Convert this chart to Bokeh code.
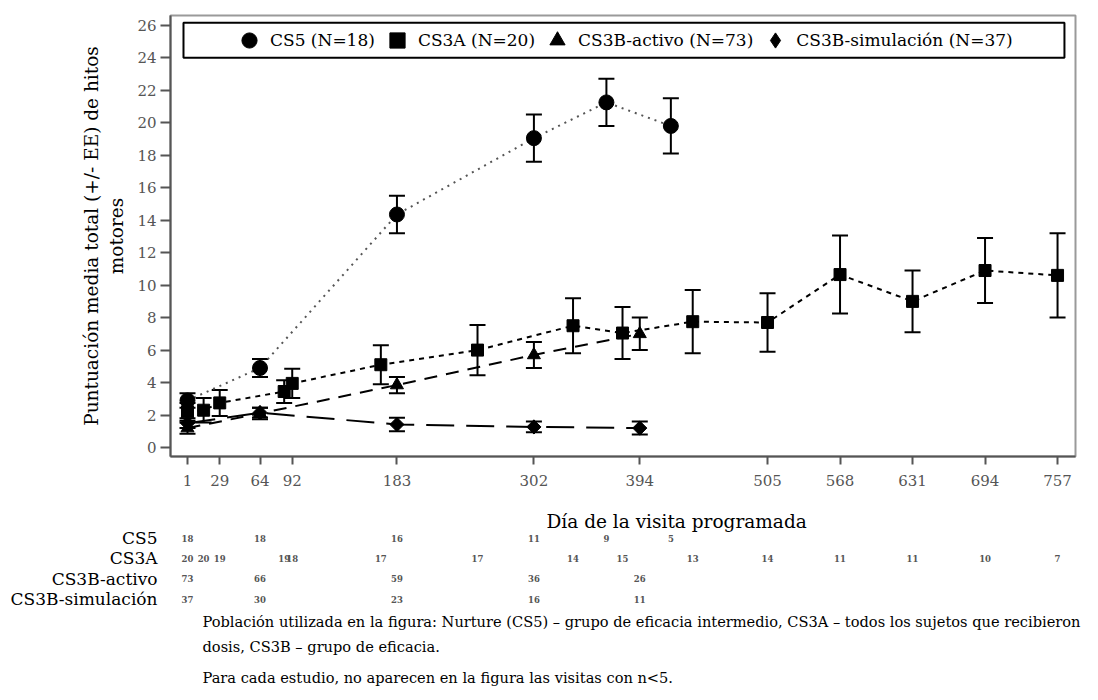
import math
from bokeh.plotting import figure
from bokeh.models import (ColumnDataSource, Whisker, TeeHead, FixedTicker, Range1d,
                          Legend, LegendItem, Title, BoxAnnotation)
from bokeh.layouts import column
from bokeh.embed import file_html
from bokeh.resources import INLINE
from bokeh.core.properties import value

SERIF = "DejaVu Serif"

# ---------------- data ----------------
cs5_days = [1, 64, 183, 302, 365, 421]
cs5_mean = [2.9, 4.9, 14.35, 19.05, 21.25, 19.8]
cs5_se = [0.45, 0.55, 1.15, 1.45, 1.45, 1.7]
cs5_n = [18, 18, 16, 11, 9, 5]

cs3a_days = [1, 15, 29, 85, 92, 169, 253, 336, 379, 440, 505, 568, 631, 694, 757]
cs3a_mean = [2.2, 2.3, 2.75, 3.45, 3.95, 5.1, 6.0, 7.5, 7.05, 7.75, 7.7, 10.65, 9.0, 10.9, 10.6]
cs3a_se = [0.55, 0.75, 0.8, 0.7, 0.9, 1.2, 1.55, 1.7, 1.6, 1.95, 1.8, 2.4, 1.9, 2.0, 2.6]
cs3a_n = [20, 20, 19, 19, 18, 17, 17, 14, 15, 13, 14, 11, 11, 10, 7]

act_days = [1, 64, 183, 302, 394]
act_mean = [1.2, 2.1, 3.85, 5.7, 7.0]
act_se = [0.35, 0.35, 0.5, 0.8, 1.0]
act_n = [73, 66, 59, 36, 26]

sim_days = [1, 64, 183, 302, 394]
sim_mean = [1.5, 2.15, 1.42, 1.27, 1.2]
sim_se = [0.3, 0.3, 0.42, 0.33, 0.4]
sim_n = [37, 30, 23, 16, 11]

series_names = ["CS5 (N=18)", "CS3A (N=20)", "CS3B-activo (N=73)", "CS3B-simulación (N=37)"]
row_labels = ["CS5", "CS3A", "CS3B-activo", "CS3B-simulación"]

x_ticks = [1, 29, 64, 92, 183, 302, 394, 505, 568, 631, 694, 757]
y_ticks = list(range(0, 27, 2))

x_title = "Día de la visita programada"
y_title = "Puntuación media total (+/- EE) de hitos\nmotores"
notes = [
    "Población utilizada en la figura: Nurture (CS5) – grupo de eficacia intermedio, CS3A – todos los sujetos que recibieron",
    "dosis, CS3B – grupo de eficacia.",
    "Para cada estudio, no aparecen en la figura las visitas con n<5.",
]

# ---------------- styles ----------------
styles = [
    dict(marker="circle", size=15, angle=0.0, dash="2 5", color="#555555"),
    dict(marker="square", size=12, angle=0.0, dash="5 5", color="black"),
    dict(marker="triangle", size=13, angle=0.0, dash="13 9", color="black"),
    dict(marker="square", size=10, angle=math.pi / 4, dash="28 12", color="black"),
]

series = [
    (cs5_days, cs5_mean, cs5_se, cs5_n),
    (cs3a_days, cs3a_mean, cs3a_se, cs3a_n),
    (act_days, act_mean, act_se, act_n),
    (sim_days, sim_mean, sim_se, sim_n),
]

W = 1090
p = figure(width=W, height=493, output_backend="svg", toolbar_location=None,
           x_range=Range1d(-13.77, 772.6), y_range=Range1d(-0.55, 26.6),
           min_border_left=170, min_border_right=15, min_border_top=15, min_border_bottom=37)
p.grid.visible = False
p.outline_line_color = "#9a9a9a"
p.outline_line_width = 2

for ax in (p.xaxis[0], p.yaxis[0]):
    ax.axis_line_color = "#555555"
    ax.axis_line_width = 2
    ax.major_tick_line_color = "#555555"
    ax.major_tick_line_width = 2
    ax.minor_tick_line_color = None
    ax.major_tick_in = 0
    ax.major_label_text_font = SERIF
    ax.major_label_text_font_size = "15px"
    ax.major_label_text_color = "#555555"

p.xaxis.ticker = FixedTicker(ticks=x_ticks)
p.xaxis.major_tick_out = 8
p.xaxis.major_label_standoff = 10
p.yaxis.ticker = FixedTicker(ticks=y_ticks)
p.yaxis.major_tick_out = 10
p.yaxis.major_label_standoff = 4
p.yaxis.axis_label = y_title
p.yaxis.axis_label_text_font = SERIF
p.yaxis.axis_label_text_font_size = "18.5px"
p.yaxis.axis_label_text_font_style = "normal"
p.yaxis.axis_label_text_color = "black"
p.yaxis.axis_label_standoff = 7

items = []
for k, ((days, mean, se, ns), st, name) in enumerate(zip(series, styles, series_names)):
    src = ColumnDataSource(dict(x=days, y=mean,
                                upper=[m + s for m, s in zip(mean, se)],
                                lower=[m - s for m, s in zip(mean, se)]))
    p.line("x", "y", source=src, line_dash=st["dash"], line_width=2, line_color=st["color"])
    p.add_layout(Whisker(source=src, base="x", upper="upper", lower="lower",
                         line_width=2, line_color="black",
                         upper_head=TeeHead(size=16, line_width=2, line_color="black"),
                         lower_head=TeeHead(size=16, line_width=2, line_color="black")))
    if k == 3:
        # diamond glyph (hidden under the rotated squares) used as the legend symbol
        leg_r = p.scatter("x", "y", source=src, marker="diamond", size=14,
                          fill_color="black", line_color="black")
    r = p.scatter("x", "y", source=src, marker=st["marker"], size=st["size"], angle=st["angle"],
                  fill_color="black", line_color="black")
    items.append(LegendItem(label=name, renderers=[leg_r if k == 3 else r]))

# legend frame
p.add_layout(BoxAnnotation(left=-2.48, right=763, bottom=24.0, top=26.15,
                           fill_color="white", fill_alpha=1.0,
                           line_color="black", line_width=2, line_alpha=1.0))
legend = Legend(items=items, location=(60, 397), orientation="horizontal",
                border_line_color=None, background_fill_alpha=0,
                padding=0, spacing=3, label_standoff=2,
                glyph_width=38, glyph_height=38,
                label_text_font=SERIF, label_text_font_size="17px",
                label_text_color="black")
p.add_layout(legend)

# ---------------- x title + number-at-risk table + footnotes ----------------
t = figure(width=W, height=207, output_backend="svg", toolbar_location=None,
           x_range=p.x_range, y_range=Range1d(0.533, 4.32), x_axis_type=None,
           min_border_left=170, min_border_right=15, min_border_top=38, min_border_bottom=92)
t.grid.visible = False
t.outline_line_color = None
t.yaxis.ticker = FixedTicker(ticks=[4, 3, 2, 1])
t.yaxis.major_label_overrides = {4: row_labels[0], 3: row_labels[1], 2: row_labels[2], 1: row_labels[3]}
t.yaxis.axis_line_color = None
t.yaxis.major_tick_line_color = None
t.yaxis.minor_tick_line_color = None
t.yaxis.major_label_standoff = 7
t.yaxis.major_label_text_font = SERIF
t.yaxis.major_label_text_font_size = "17px"
t.yaxis.major_label_text_color = "black"

t.add_layout(Title(text=x_title, align="left", offset=376,
                   text_font=SERIF, text_font_size="18.5px", text_font_style="normal",
                   text_color="black", standoff=0), "above")

for i, (days, mean, se, ns) in enumerate(series):
    row = 4 - i
    t.text(x=days, y=[row] * len(days), text=[str(n) for n in ns],
           text_align="center", text_baseline="middle",
           text_font=value(SERIF), text_font_size="8.5px", text_font_style="bold",
           text_color="#555555")

for note, so in zip(notes, [3.5, 8.5, 13.5]):
    t.add_layout(Title(text=note, align="left", offset=32, text_font=SERIF,
                       text_font_size="14.6px", text_font_style="normal",
                       text_color="black", standoff=so), "below")

layout = column(p, t, spacing=0)
open("out.html", "w").write(file_html(layout, INLINE))
